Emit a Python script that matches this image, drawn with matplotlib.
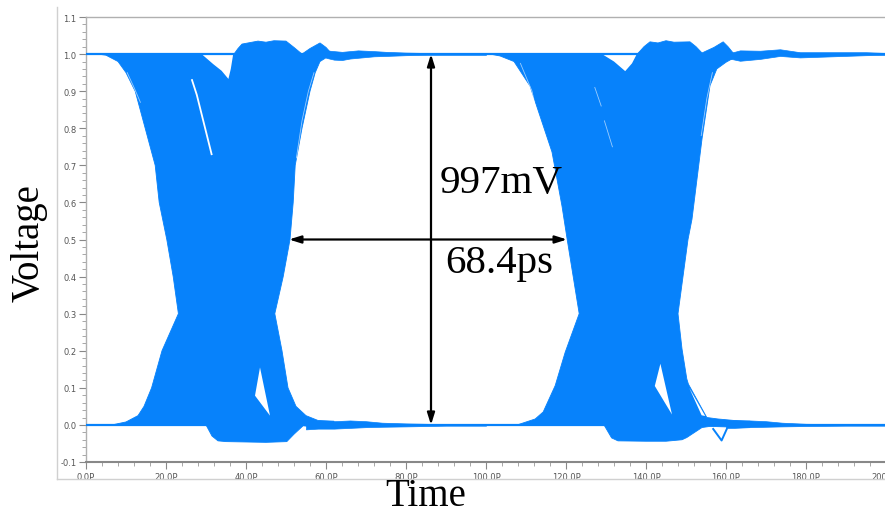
import numpy as np
import matplotlib.pyplot as plt
from matplotlib.lines import Line2D
from matplotlib.ticker import MultipleLocator, FuncFormatter

# eye diagram colour
blue = '#0782fb'

# first crossing: outline of the trace mass (time in ps, voltage in V)
c1_t = [3, 20, 37, 38, 39, 41, 43, 45, 47, 50, 52, 54, 56, 58.5, 60, 61.5,
        60, 58.5, 57.3, 56, 54, 52.3, 51.8, 51, 49.3, 47.2, 49, 50.5, 52.5, 55, 58, 62,
        62, 57, 54.3, 52, 50.2, 45, 40, 35, 33, 31.5, 30.5, 30,
        6.5, 10, 13, 14.5, 16.4, 19, 23.1,
        21.8, 20.2, 18.3, 17.3, 14.8, 12.3, 10, 8, 5]
c1_v = [1.0, 1.0, 1.0, 1.015, 1.027, 1.031, 1.035, 1.032, 1.036, 1.035, 1.018, 1.0, 1.015, 1.03, 1.018, 1.0,
        0.99, 0.98, 0.95, 0.9, 0.8, 0.7, 0.6, 0.5, 0.4, 0.3, 0.2, 0.1, 0.05, 0.025, 0.012, 0.01,
        -0.008, -0.006, -0.002, -0.025, -0.045, -0.047, -0.046, -0.045, -0.043, -0.03, -0.01, 0.0,
        0.0, 0.008, 0.025, 0.05, 0.1, 0.2, 0.3,
        0.4, 0.5, 0.6, 0.7, 0.8, 0.9, 0.95, 0.98, 0.997]

# second crossing
c2_t = [101, 120, 137.8, 138.5, 139.5, 141, 143, 145, 147, 151, 152.5, 154, 157, 159.3, 160.5, 162,
        162, 160, 157.7, 156, 154, 151.5, 150.5, 148, 149, 150.2, 150.6, 155.2, 158, 162, 166,
        166, 162, 156, 154, 150.2, 149, 145, 140, 133, 131.4, 129.5,
        107.8, 112.3, 114.3, 117.3, 119.8, 123.3,
        121.8, 120.3, 119, 116.5, 111, 107, 103.5]
c2_v = [1.0, 1.0, 1.0, 1.008, 1.02, 1.033, 1.03, 1.036, 1.032, 1.033, 1.02, 1.003, 1.018, 1.033, 1.02, 1.0,
        0.99, 0.978, 0.96, 0.915, 0.771, 0.555, 0.5, 0.3, 0.205, 0.124, 0.11, 0.02, 0.016, 0.012, 0.01,
        -0.006, -0.006, -0.004, -0.007, -0.034, -0.04, -0.044, -0.044, -0.043, -0.035, 0.0,
        0.0, 0.016, 0.035, 0.106, 0.196, 0.3,
        0.4, 0.5, 0.59, 0.736, 0.914, 0.98, 0.995]

# gaps inside the trace mass
notch1_t = [28.9, 31.8, 33.9, 35.6, 36.2, 36.8]
notch1_v = [1.0, 0.973, 0.955, 0.933, 0.96, 1.0]
notch2_t = [129, 132, 134.8, 136.5, 137.7]
notch2_v = [1.0, 0.98, 0.954, 0.975, 1.0]
tri1_t = [42.25, 43.5, 46]
tri1_v = [0.079, 0.155, 0.025]
tri2_t = [142.2, 143.6, 146.5]
tri2_v = [0.105, 0.165, 0.028]
wedge2_t = [150.8, 154.8, 153.9]
wedge2_v = [0.1, 0.024, 0.026]
sliver1_t = [26.5, 27.7, 31.4]
sliver1_v = [0.93, 0.89, 0.73]

# faint gaps between the outermost traces
streaks = [
    ([10.3, 12.0, 13.6], [0.95, 0.91, 0.87]),
    ([57.0, 55.6, 54.0, 52.6], [0.95, 0.9, 0.82, 0.72]),
    ([108.6, 111.5, 114.8], [0.975, 0.9, 0.73]),
    ([127.2, 128.8], [0.91, 0.86]),
    ([129.6, 131.6], [0.82, 0.75]),
    ([156.6, 155.2, 153.8], [0.95, 0.88, 0.78]),
]

# settled rails (upper and lower edge of the band)
top_t = [60, 62, 64, 66, 68, 70, 72, 75, 80, 85, 90, 100,
         160, 163.5, 168.5, 173.5, 178.5, 186.7, 195, 200]
top_hi = [1.01, 1.008, 1.006, 1.008, 1.01, 1.009, 1.008, 1.006, 1.004, 1.003, 1.002, 1.002,
          1.0, 1.01, 1.009, 1.013, 1.005, 1.005, 1.005, 1.003]
top_lo = [0.99, 0.985, 0.984, 0.988, 0.99, 0.992, 0.994, 0.995, 0.997, 0.998, 0.998, 0.998,
          0.99, 0.982, 0.987, 0.995, 0.991, 0.994, 0.997, 0.998]
bot_t = [55, 58, 62, 66, 70, 74, 80, 90, 100,
         160, 162, 166, 170, 174, 180, 190, 200]
bot_hi = [0.005, 0.006, 0.01, 0.012, 0.01, 0.006, 0.004, 0.002, 0.002,
          0.012, 0.012, 0.012, 0.01, 0.006, 0.003, 0.002, 0.002]
bot_lo = [-0.012, -0.01, -0.01, -0.008, -0.006, -0.005, -0.004, -0.002, -0.002,
          -0.008, -0.008, -0.006, -0.005, -0.004, -0.003, -0.002, -0.002]
rails = [0.0, 1.0]

# undershoot glitch near 159 ps
glitch_t = [156.8, 158.9, 160.2]
glitch_v = [-0.011, -0.042, -0.011]

# eye opening markers
eye_t = 86.25
eye_v = (0.0, 1.0)
eye_w = (50.75, 120.25)
height_label = '997mV'
width_label = '68.4ps'

fig = plt.figure(figsize=(8.85, 5.10), dpi=100)
ax = fig.add_axes([86 / 885, 1 - 463 / 510, 800 / 885, 445 / 510])

ax.fill(c1_t, c1_v, color=blue, lw=0.6, zorder=2)
ax.fill(c2_t, c2_v, color=blue, lw=0.6, zorder=2)
ax.fill_between(top_t[:12], top_hi[:12], top_lo[:12], color=blue, lw=0.5, zorder=2)
ax.fill_between(top_t[12:], top_hi[12:], top_lo[12:], color=blue, lw=0.5, zorder=2)
ax.fill_between(bot_t[:9], bot_hi[:9], bot_lo[:9], color=blue, lw=0.5, zorder=2)
ax.fill_between(bot_t[9:], bot_hi[9:], bot_lo[9:], color=blue, lw=0.5, zorder=2)

for ht, hv in [(notch1_t, notch1_v), (notch2_t, notch2_v), (tri1_t, tri1_v),
               (tri2_t, tri2_v), (wedge2_t, wedge2_v)]:
    ax.fill(ht, hv, color='white', lw=0, zorder=3)
ax.plot(sliver1_t, sliver1_v, color='white', lw=1.3, zorder=3)
for st, sv in streaks:
    ax.plot(st, sv, color='white', lw=0.6, alpha=0.6, zorder=3)

for r in rails:
    ax.axhline(r, color=blue, lw=1.6, zorder=4)
ax.plot(glitch_t, glitch_v, color=blue, lw=1.4, zorder=4)

# arrows and labels of the eye opening
arrow = dict(arrowstyle='<|-|>,head_length=0.7,head_width=0.22', color='black',
             lw=1.6, shrinkA=0, shrinkB=0)
ax.annotate('', xy=(eye_t, eye_v[1]), xytext=(eye_t, eye_v[0]), arrowprops=arrow, zorder=5)
ax.annotate('', xy=(eye_w[1], 0.5), xytext=(eye_w[0], 0.5), arrowprops=arrow, zorder=5)
ax.text(88.5, 0.627, height_label, fontsize=29.5, family='Liberation Serif', zorder=6)
ax.text(89.75, 0.412, width_label, fontsize=29.5, family='Liberation Serif', zorder=6)

ax.set_xlim(0, 200)
ax.set_ylim(-0.1, 1.1)
ax.xaxis.set_major_locator(MultipleLocator(20))
ax.xaxis.set_minor_locator(MultipleLocator(4))
ax.yaxis.set_major_locator(MultipleLocator(0.1))
ax.yaxis.set_minor_locator(MultipleLocator(0.02))
ax.xaxis.set_major_formatter(FuncFormatter(lambda v, p: f'{v:.1f}P'))
ax.yaxis.set_major_formatter(FuncFormatter(lambda v, p: f'{v:.1f}'))
ax.tick_params(which='major', length=5, width=0.8, color='#888888', labelsize=6,
               labelcolor='#555555', pad=2)
ax.tick_params(which='minor', length=3, width=0.6, color='#999999')
for s in ax.spines.values():
    s.set_color('#b0b0b0')
    s.set_linewidth(1)
ax.spines['bottom'].set_color('#888888')
ax.spines['bottom'].set_linewidth(1.5)

# outer panel frame
fig.add_artist(Line2D([57 / 885, 57 / 885], [1 - 8 / 510, 1 - 480 / 510],
                      transform=fig.transFigure, color='#d0d0d0', lw=1))
fig.add_artist(Line2D([57 / 885, 1], [1 - 480 / 510, 1 - 480 / 510],
                      transform=fig.transFigure, color='#d0d0d0', lw=1))

fig.text(426 / 885, 1 - 506 / 510, 'Time', fontsize=28, family='Liberation Serif',
         ha='center', va='baseline')
fig.text(29 / 885, 1 - 243 / 510, 'Voltage', fontsize=28, family='Liberation Serif',
         rotation=90, ha='center', va='center')

fig.savefig('out.png', dpi=100)
